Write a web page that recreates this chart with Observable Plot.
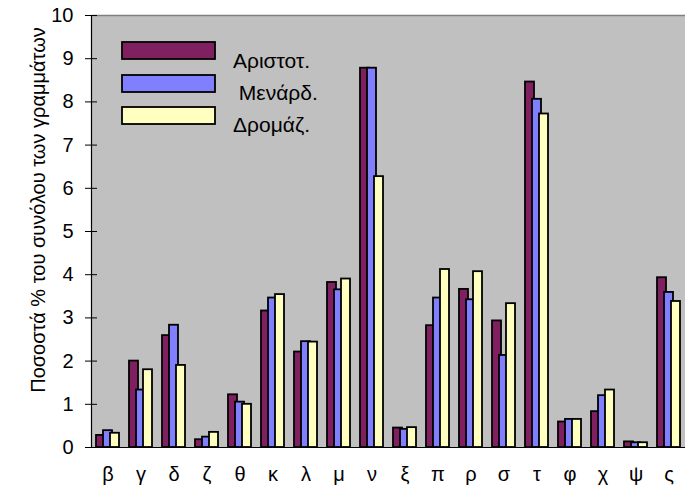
<!DOCTYPE html>
<html>
<head>
<meta charset="utf-8">
<script src="https://cdn.jsdelivr.net/npm/d3@7"></script>
<script src="https://cdn.jsdelivr.net/npm/@observablehq/plot@0.6"></script>
<style>
  body { margin: 0; background: #fff; }
  #chart svg { display: block; }
</style>
</head>
<body>
<div id="chart"></div>
<script>
const letters = ["β","γ","δ","ζ","θ","κ","λ","μ","ν","ξ","π","ρ","σ","τ","φ","χ","ψ","ς"];
const seriesNames = ["Αριστοτ.", " Μενάρδ.", "Δρομάζ."];
const aristot = [0.28, 2.00, 2.59, 0.18, 1.22, 3.16, 2.21, 3.82, 8.78, 0.45, 2.82, 3.66, 2.93, 8.46, 0.59, 0.83, 0.13, 3.93];
const menard  = [0.39, 1.33, 2.83, 0.24, 1.05, 3.46, 2.45, 3.65, 8.78, 0.42, 3.46, 3.42, 2.13, 8.06, 0.65, 1.20, 0.11, 3.59];
const dromaz  = [0.33, 1.80, 1.90, 0.35, 1.00, 3.54, 2.44, 3.90, 6.27, 0.46, 4.12, 4.07, 3.33, 7.72, 0.65, 1.33, 0.11, 3.38];
const yTicks = [0,1,2,3,4,5,6,7,8,9,10];
const yLabel = "Ποσοστά % του συνόλου των γραμμάτων";
const colors = ["#802060", "#8080FF", "#FFFFC0"];

const series = [aristot, menard, dromaz];
const offsets = [-7, 0, 7];
const FONT = "'Liberation Sans', Arial, sans-serif";

const barMarks = series.map((vals, i) =>
  Plot.barY(letters.map((l, j) => ({letter: l, value: vals[j]})), {
    x: "letter", y: "value", fill: colors[i], stroke: "#000", strokeWidth: 1.8,
    insetLeft: 12, insetRight: 12, dx: offsets[i]
  })
);

const plot = Plot.plot({
  width: 685, height: 493,
  marginLeft: 91, marginRight: 0, marginTop: 15, marginBottom: 46,
  style: {fontFamily: FONT, background: "#fff", color: "#000"},
  x: {domain: letters, padding: 0},
  y: {domain: [0, 10]},
  marks: [
    Plot.frame({fill: "#C0C0C0", stroke: null}),
    Plot.ruleY([10], {stroke: "#808080", strokeWidth: 1.5}),
    ...barMarks,
    Plot.ruleY([0], {stroke: "#000", strokeWidth: 1.2}),
    Plot.axisY({ticks: yTicks, tickSize: 6, tickPadding: 12, fontSize: 20, label: null, stroke: "#000"}),
    Plot.axisY({ticks: yTicks, tickSize: 6, text: null, dx: 6, label: null, stroke: "#000"}),
    Plot.axisX({tickSize: 0, tickPadding: 19, fontSize: 20, label: null})
  ]
});
document.getElementById("chart").append(plot);

const svg = d3.select(plot);
const xr = plot.scale("x").range;
const yr = plot.scale("y").range;
// left axis line
svg.append("line")
  .attr("x1", xr[0] + 0.5).attr("x2", xr[0] + 0.5)
  .attr("y1", yr[1]).attr("y2", yr[0])
  .attr("stroke", "#000").attr("stroke-width", 1.2);

// y axis title
svg.append("text")
  .attr("transform", "translate(40,210) rotate(-90)")
  .attr("text-anchor", "middle")
  .attr("dominant-baseline", "middle")
  .attr("font-family", FONT)
  .attr("font-size", 20)
  .attr("fill", "#000")
  .text(yLabel);

// legend inside the plot area
const lg = svg.append("g").attr("font-family", FONT).attr("font-size", 21).attr("text-anchor", "start");
const boxY = [42, 75, 107];
const textY = [68, 100, 132];
seriesNames.forEach((name, i) => {
  lg.append("rect").attr("x", 122).attr("y", boxY[i]).attr("width", 93).attr("height", 17)
    .attr("fill", colors[i]).attr("stroke", "#000").attr("stroke-width", 1.8);
  lg.append("text").attr("x", 233).attr("y", textY[i]).attr("fill", "#000")
    .style("white-space", "pre").text(name);
});
</script>
</body>
</html>
